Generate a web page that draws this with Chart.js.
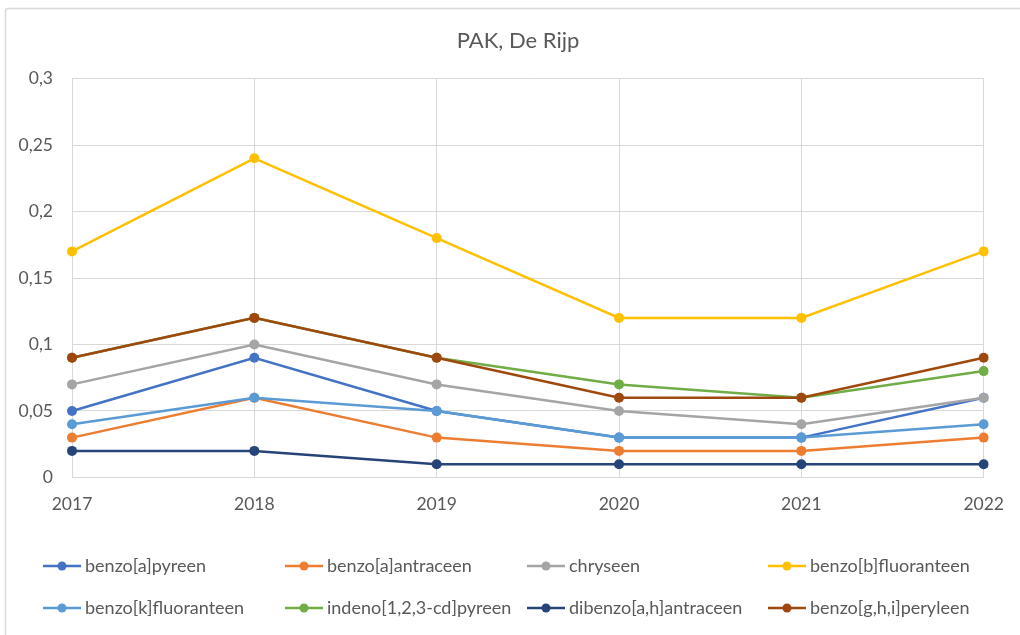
<!DOCTYPE html>
<html>
<head>
<meta charset="utf-8">
<script src="https://cdn.jsdelivr.net/npm/chart.js@4/dist/chart.umd.min.js"></script>
<style>
  html, body { margin: 0; padding: 0; background: #fff; }
  #wrap { width: 1020px; height: 635px; position: relative; }
</style>
</head>
<body>
<div id="wrap"><canvas id="pakChart" width="1020" height="635"></canvas></div>
<script>
// ===== Gegevens PAK De Rijp =====
const jaren = ['2017', '2018', '2019', '2020', '2021', '2022'];

const benzoAPyreen       = [0.05, 0.09, 0.05, 0.03, 0.03, 0.06];
const benzoAAntraceen    = [0.03, 0.06, 0.03, 0.02, 0.02, 0.03];
const chryseen           = [0.07, 0.10, 0.07, 0.05, 0.04, 0.06];
const benzoBFluoranteen  = [0.17, 0.24, 0.18, 0.12, 0.12, 0.17];
const benzoKFluoranteen  = [0.04, 0.06, 0.05, 0.03, 0.03, 0.04];
const indenoPyreen       = [0.09, 0.12, 0.09, 0.07, 0.06, 0.08];
const dibenzoAntraceen   = [0.02, 0.02, 0.01, 0.01, 0.01, 0.01];
const benzoGhiPeryleen   = [0.09, 0.12, 0.09, 0.06, 0.06, 0.09];

const yTicks = [0, 0.05, 0.1, 0.15, 0.2, 0.25, 0.3];

const reeksen = [
    { label: 'benzo[a]pyreen',         data: benzoAPyreen,      kleur: '#4472C4' },
    { label: 'benzo[a]antraceen',      data: benzoAAntraceen,   kleur: '#ED7D31' },
    { label: 'chryseen',               data: chryseen,          kleur: '#A5A5A5' },
    { label: 'benzo[b]fluoranteen',    data: benzoBFluoranteen, kleur: '#FFC000' },
    { label: 'benzo[k]fluoranteen',    data: benzoKFluoranteen, kleur: '#5B9BD5' },
    { label: 'indeno[1,2,3-cd]pyreen', data: indenoPyreen,      kleur: '#70AD47' },
    { label: 'dibenzo[a,h]antraceen',  data: dibenzoAntraceen,  kleur: '#264478' },
    { label: 'benzo[g,h,i]peryleen',   data: benzoGhiPeryleen,  kleur: '#9E480E' }
];

const FONT = 'Lato, "Liberation Sans", sans-serif';
const TEKST = '#595959';

// Achtergrond, kader en titel
const kaderPlugin = {
    id: 'kader',
    beforeDraw(chart) {
        const ctx = chart.ctx;
        ctx.save();
        ctx.fillStyle = '#fff';
        ctx.fillRect(0, 0, chart.width, chart.height);
        ctx.strokeStyle = '#D9D9D9';
        ctx.lineWidth = 1.5;
        ctx.beginPath();
        ctx.moveTo(5.5, chart.height + 5);
        ctx.lineTo(5.5, 12);
        ctx.arcTo(5.5, 8.5, 9, 8.5, 3);
        ctx.lineTo(chart.width + 5, 8.5);
        ctx.stroke();

        ctx.fillStyle = TEKST;
        ctx.font = '22px ' + FONT;
        ctx.textAlign = 'center';
        ctx.textBaseline = 'middle';
        ctx.fillText('PAK, De Rijp', 518, 41);
        ctx.restore();
    }
};

// Legenda in twee rijen van vier
const legendaPlugin = {
    id: 'legendaRaster',
    afterDraw(chart) {
        const ctx = chart.ctx;
        const kolommen = [43, 285, 527, 768];
        const rijen = [566, 608];
        ctx.save();
        ctx.font = '18px ' + FONT;
        ctx.textBaseline = 'middle';
        ctx.textAlign = 'left';
        chart.data.datasets.forEach((ds, i) => {
            const x = kolommen[i % 4];
            const y = rijen[Math.floor(i / 4)];
            ctx.strokeStyle = ds.borderColor;
            ctx.lineWidth = 2.5;
            ctx.beginPath();
            ctx.moveTo(x, y);
            ctx.lineTo(x + 38, y);
            ctx.stroke();
            ctx.fillStyle = ds.backgroundColor;
            ctx.beginPath();
            ctx.arc(x + 19, y, 4.5, 0, Math.PI * 2);
            ctx.fill();
            ctx.fillStyle = TEKST;
            ctx.fillText(ds.label, x + 42, y);
        });
        ctx.restore();
    }
};

const ctx = document.getElementById('pakChart').getContext('2d');

const pakChart = new Chart(ctx, {
    type: 'line',
    data: {
        labels: jaren,
        datasets: reeksen.map((r, i) => ({
            label: r.label,
            data: r.data,
            borderColor: r.kleur,
            backgroundColor: r.kleur,
            borderWidth: 2.5,
            pointRadius: 5,
            pointBorderWidth: 0,
            pointBackgroundColor: r.kleur,
            tension: 0,
            fill: false,
            order: reeksen.length - i
        }))
    },
    options: {
        responsive: false,
        animation: false,
        devicePixelRatio: 1,
        layout: {
            padding: { left: 0, top: 78.5, right: 30, bottom: 0 }
        },
        plugins: {
            legend: { display: false },
            title: { display: false },
            tooltip: { enabled: false }
        },
        scales: {
            x: {
                offset: false,
                grid: { color: '#D9D9D9', lineWidth: 1, drawTicks: false },
                border: { color: '#D9D9D9', width: 1 },
                ticks: {
                    color: TEKST,
                    font: { family: FONT, size: 17.5 },
                    padding: 16,
                    maxRotation: 0
                },
                afterFit(scale) { scale.height = 157.5; }
            },
            y: {
                min: 0,
                max: 0.3,
                grid: { color: '#D9D9D9', lineWidth: 1, drawTicks: false },
                border: { color: '#D9D9D9', width: 1 },
                afterBuildTicks(scale) {
                    scale.ticks = yTicks.map(v => ({ value: v }));
                },
                ticks: {
                    color: TEKST,
                    font: { family: FONT, size: 17.5 },
                    padding: 19,
                    callback: v => String(Math.round(v * 100) / 100).replace('.', ',')
                },
                afterFit(scale) { scale.width = 72; }
            }
        }
    },
    plugins: [kaderPlugin, legendaPlugin]
});
</script>
</body>
</html>
